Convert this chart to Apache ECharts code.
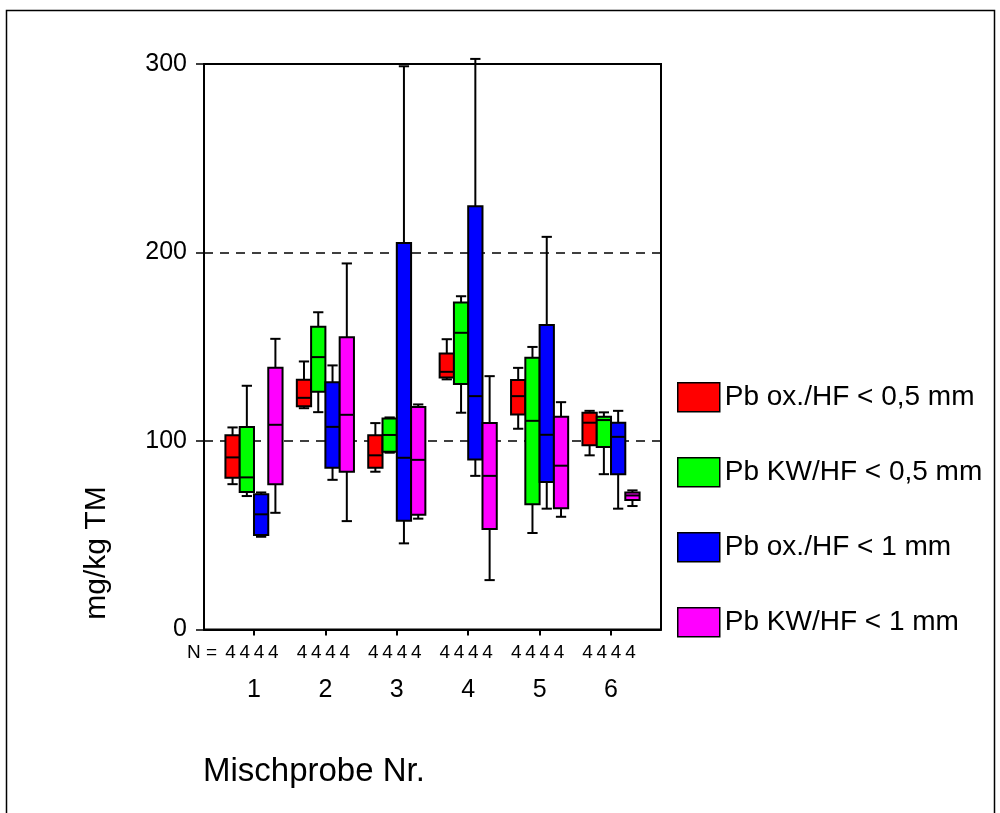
<!DOCTYPE html>
<html>
<head>
<meta charset="utf-8">
<script src="https://cdn.jsdelivr.net/npm/echarts@6/dist/echarts.min.js"></script>
<style>
  html, body { margin: 0; padding: 0; background: #fff; }
  #chart { width: 1000px; height: 813px; }
</style>
</head>
<body>
<div id="chart"></div>
<script>
// Mischprobe 1..6, each box: [min, q1, median, q3, max]
const categories = ['1', '2', '3', '4', '5', '6']
const seriesNames = ['Pb ox./HF < 0,5 mm', 'Pb KW/HF < 0,5 mm', 'Pb ox./HF < 1 mm', 'Pb KW/HF < 1 mm']
const seriesColors = ['#ff0000', '#00ff00', '#0000ff', '#ff00ff']

const pbOx05 = [
  [77.1, 80.5, 91.3, 103.1, 107.2],
  [117.4, 118.5, 122.9, 132.5, 142.2],
  [83.7, 85.8, 92.4, 103.1, 109.5],
  [132.7, 133.7, 136.7, 146.4, 154.0],
  [106.5, 114.1, 123.8, 132.3, 138.8],
  [92.4, 97.8, 109.7, 115.0, 116.0]
]
const pbKw05 = [
  [70.8, 72.9, 80.7, 107.4, 129.3],
  [115.3, 126.1, 144.5, 160.6, 168.3],
  [93.8, 94.3, 103.2, 112.0, 112.5],
  [115.0, 130.3, 157.4, 173.5, 176.8],
  [51.2, 66.4, 110.7, 144.1, 149.9],
  [82.4, 96.8, 111.1, 112.8, 115.2]
]
const pbOx1 = [
  [49.2, 50.1, 61.1, 71.7, 72.7],
  [79.4, 85.8, 107.5, 131.2, 140.1],
  [45.7, 57.7, 91.1, 205.1, 298.8],
  [81.5, 90.2, 123.8, 224.6, 302.7],
  [64.1, 78.2, 103.3, 161.6, 208.3],
  [64.1, 82.4, 102.2, 109.7, 116.0]
]
const pbKw1 = [
  [61.9, 77.1, 108.6, 138.8, 154.2],
  [57.5, 83.7, 113.9, 155.1, 194.2],
  [58.8, 60.9, 90.0, 118.1, 119.4],
  [26.2, 53.3, 81.5, 109.5, 134.4],
  [59.8, 64.3, 86.9, 112.8, 120.6],
  [65.5, 68.7, 71.1, 72.7, 73.8]
]
// N per box (group x series)
const nCounts = [
  [4, 4, 4, 4], [4, 4, 4, 4], [4, 4, 4, 4],
  [4, 4, 4, 4], [4, 4, 4, 4], [4, 4, 4, 4]
]
const yTicks = [0, 100, 200, 300]

const allValues = [pbOx05, pbKw05, pbOx1, pbKw1]
const FONT = 'Liberation Sans, Arial, sans-serif'
const boxW = 0.2 // box width in x-axis units

function makeRender (s) {
  return function (params, api) {
    const x = api.value(0) + (s - 1.5) * boxW
    const lo = api.coord([x, api.value(1)])
    const q1 = api.coord([x, api.value(2)])
    const md = api.coord([x, api.value(3)])
    const q3 = api.coord([x, api.value(4)])
    const hi = api.coord([x, api.value(5)])
    const base = api.coord([x, 0])
    const w = api.size([boxW, 0])[0]
    const cap = w * 0.36
    const ls = { stroke: '#000', lineWidth: 2 }
    return {
      type: 'group',
      children: [
        { type: 'line', shape: { x1: hi[0], y1: hi[1], x2: q3[0], y2: q3[1] }, style: ls },
        { type: 'line', shape: { x1: hi[0] - cap, y1: hi[1], x2: hi[0] + cap, y2: hi[1] }, style: ls },
        { type: 'line', shape: { x1: lo[0], y1: lo[1], x2: q1[0], y2: q1[1] }, style: ls },
        { type: 'line', shape: { x1: lo[0] - cap, y1: lo[1], x2: lo[0] + cap, y2: lo[1] }, style: ls },
        {
          type: 'rect',
          shape: { x: q3[0] - w / 2, y: q3[1], width: w, height: q1[1] - q3[1] },
          style: { fill: api.visual('color'), stroke: '#000', lineWidth: 2 }
        },
        { type: 'line', shape: { x1: md[0] - w / 2, y1: md[1], x2: md[0] + w / 2, y2: md[1] }, style: ls },
        {
          type: 'text',
          x: base[0] - 2,
          y: base[1] + 23,
          style: {
            text: String(api.value(6)),
            fill: '#000',
            font: '19px ' + FONT,
            align: 'center',
            verticalAlign: 'middle'
          }
        }
      ]
    }
  }
}

const series = allValues.map(function (vals, s) {
  return {
    name: seriesNames[s],
    type: 'custom',
    renderItem: makeRender(s),
    itemStyle: { color: seriesColors[s] },
    encode: { x: 0, y: [1, 2, 3, 4, 5] },
    clip: false,
    data: vals.map(function (v, i) { return [i + 1].concat(v, [nCounts[i][s]]) })
  }
})

const chart = echarts.init(document.getElementById('chart'))
chart.setOption({
  animation: false,
  backgroundColor: '#fff',
  grid: {
    left: 204,
    top: 64,
    right: 339,
    bottom: 183.5,
    show: true,
    borderColor: '#000',
    borderWidth: 2
  },
  legend: {
    orient: 'vertical',
    left: 677,
    top: 382,
    padding: 0,
    itemWidth: 42,
    itemHeight: 29,
    itemGap: 44.5,
    icon: 'rect',
    itemStyle: { borderColor: '#000', borderWidth: 1.5 },
    textStyle: { color: '#000', fontSize: 28, fontFamily: FONT, lineHeight: 29 },
    data: seriesNames
  },
  xAxis: {
    type: 'value',
    min: 0.3,
    max: 6.7,
    axisLine: { show: true, lineStyle: { color: '#000', width: 2 } },
    axisTick: { show: true, length: 6, customValues: [1, 2, 3, 4, 5, 6], lineStyle: { color: '#000', width: 2 } },
    axisLabel: {
      customValues: [1, 2, 3, 4, 5, 6],
      formatter: function (v) { return categories[Math.round(v) - 1] },
      color: '#000',
      fontSize: 25,
      fontFamily: FONT,
      margin: 48
    },
    splitLine: { show: false }
  },
  yAxis: {
    type: 'value',
    min: 0,
    max: 300,
    interval: 100,
    axisLine: { show: true, lineStyle: { color: '#000', width: 2 } },
    axisTick: { show: true, length: 8, customValues: yTicks, lineStyle: { color: '#000', width: 1.5 } },
    axisLabel: { color: '#000', fontSize: 25, fontFamily: FONT, margin: 17 },
    splitLine: { show: true, lineStyle: { color: '#000', width: 1.5, type: [9, 7] } }
  },
  graphic: [
    {
      type: 'rect',
      shape: { x: 6.5, y: 10.5, width: 988, height: 900 },
      style: { fill: 'none', stroke: '#000', lineWidth: 1.5 },
      silent: true
    },
    {
      type: 'text',
      x: 97,
      y: 553,
      rotation: Math.PI / 2,
      style: { text: 'mg/kg TM', fill: '#000', font: '30px ' + FONT, align: 'center', verticalAlign: 'middle' }
    },
    {
      type: 'text',
      x: 203,
      y: 772,
      style: { text: 'Mischprobe Nr.', fill: '#000', font: '33px ' + FONT, align: 'left', verticalAlign: 'middle' }
    },
    {
      type: 'text',
      x: 217,
      y: 652.5,
      style: { text: 'N =', fill: '#000', font: '19px ' + FONT, align: 'right', verticalAlign: 'middle' }
    }
  ],
  series: series
})
</script>
</body>
</html>
